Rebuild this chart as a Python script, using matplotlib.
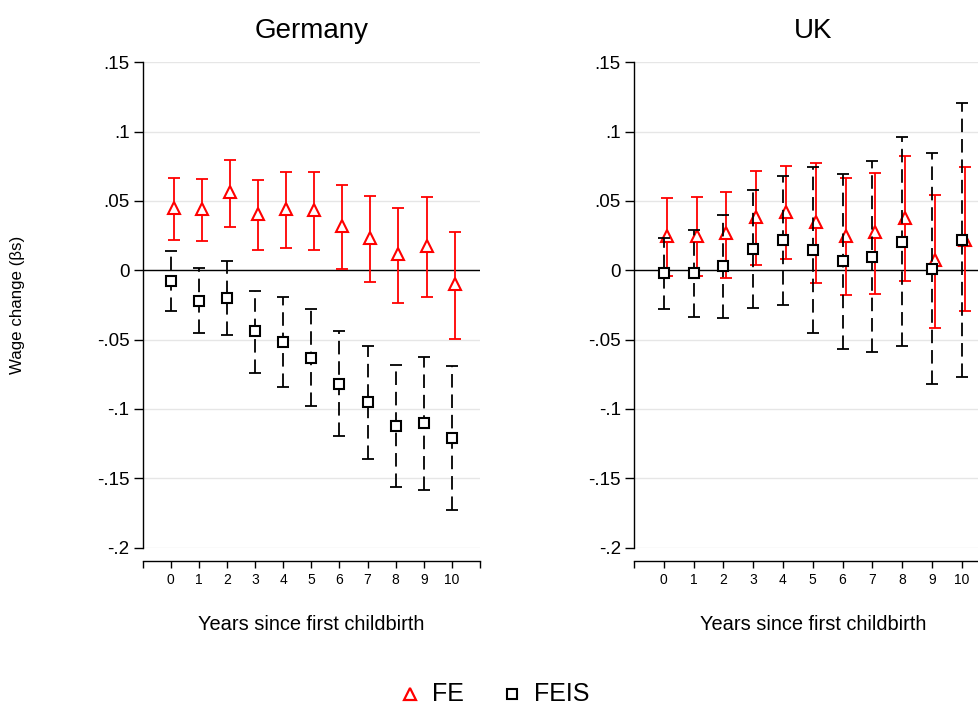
import matplotlib
matplotlib.use("Agg")
import matplotlib.pyplot as plt
from matplotlib.lines import Line2D
import numpy as np

plt.rcParams['font.family'] = ['Liberation Sans', 'DejaVu Sans']

years = list(range(11))
xtick_labels = ['0', '1', '2', '3', '4', '5', '6', '7', '8', '9', '10']
ytick_vals = [-0.2, -0.15, -0.1, -0.05, 0, 0.05, 0.1, 0.15]
ytick_labels = ['-.2', '-.15', '-.1', '-.05', '0', '.05', '.1', '.15']

# Germany
de_fe = [0.0447, 0.0442, 0.0567, 0.0406, 0.0442, 0.0435, 0.032, 0.0236, 0.0118, 0.0175, -0.0101]
de_fe_hi = [0.0668, 0.0659, 0.0798, 0.0654, 0.0712, 0.0707, 0.0615, 0.0536, 0.045, 0.0531, 0.0274]
de_fe_lo = [0.0221, 0.0214, 0.0315, 0.0144, 0.0163, 0.0149, 0.001, -0.0084, -0.0236, -0.0195, -0.0493]
de_feis = [-0.0075, -0.0221, -0.020, -0.044, -0.0517, -0.063, -0.0817, -0.0954, -0.112, -0.1103, -0.1209]
de_feis_hi = [0.0137, 0.0014, 0.0067, -0.0147, -0.0195, -0.0279, -0.044, -0.055, -0.068, -0.0623, -0.0692]
de_feis_lo = [-0.0291, -0.0454, -0.0466, -0.0738, -0.0841, -0.0978, -0.1197, -0.1358, -0.156, -0.1584, -0.1726]

# UK
uk_fe = [0.025, 0.025, 0.0267, 0.0387, 0.0423, 0.0351, 0.025, 0.0276, 0.038, 0.0075, 0.022]
uk_fe_hi = [0.0522, 0.0531, 0.0563, 0.0719, 0.0755, 0.0776, 0.0666, 0.0702, 0.0825, 0.0541, 0.0743]
uk_fe_lo = [-0.0038, -0.0042, -0.0054, 0.0041, 0.0079, -0.0089, -0.0178, -0.0168, -0.0079, -0.0416, -0.0293]
uk_feis = [-0.0017, -0.0019, 0.0029, 0.0154, 0.0216, 0.0144, 0.0065, 0.0099, 0.0207, 0.0012, 0.0221]
uk_feis_hi = [0.0236, 0.0293, 0.0401, 0.0579, 0.0683, 0.0743, 0.0697, 0.0786, 0.0959, 0.0849, 0.1209]
uk_feis_lo = [-0.0279, -0.0339, -0.0341, -0.0272, -0.0252, -0.0452, -0.0567, -0.0587, -0.0546, -0.0822, -0.0767]

W, H = 979, 706
fig = plt.figure(figsize=(W / 100, H / 100), dpi=100)

def frac_x(px):
    return px / W

def frac_y(py):
    return 1 - py / H

panels = [
    ("Germany", 142.7, 480.0, de_fe, de_fe_lo, de_fe_hi, de_feis, de_feis_lo, de_feis_hi),
    ("UK", 634.0, 991.6, uk_fe, uk_fe_lo, uk_fe_hi, uk_feis, uk_feis_lo, uk_feis_hi),
]

top_px, bot_px = 62.3, 547.5
red = '#ff0000'
for title, lpx, rpx, fe, felo, fehi, fs, fslo, fshi in panels:
    ax = fig.add_axes([frac_x(lpx), frac_y(bot_px), frac_x(rpx - lpx), (bot_px - top_px) / H])
    ax.set_xlim(-1, 11)
    ax.set_ylim(-0.2, 0.15)
    ax.set_yticks(ytick_vals)
    ax.set_yticklabels(ytick_labels, fontsize=13.5)
    ax.set_xticks(list(range(-1, 12)))
    ax.set_xticklabels([''] + xtick_labels + [''], fontsize=11)
    for v in ytick_vals:
        ax.axhline(v, color='#e6e6e6', lw=1.0, zorder=0)
    ax.axhline(0, color='black', lw=1.0, zorder=1)
    for s in ['top', 'right']:
        ax.spines[s].set_visible(False)
    ax.spines['left'].set_linewidth(1.0)
    ax.spines['bottom'].set_linewidth(1.0)
    ax.spines['bottom'].set_position(('outward', 10))
    ax.tick_params(axis='y', length=6.5, width=1.0, pad=3)
    ax.tick_params(axis='x', length=5, width=1.0, pad=3)

    x_fe = np.array(years) + 0.1
    x_fs = np.array(years, dtype=float)
    fe = np.array(fe); felo = np.array(felo); fehi = np.array(fehi)
    fs = np.array(fs); fslo = np.array(fslo); fshi = np.array(fshi)

    ax.errorbar(x_fe, fe, yerr=[fe - felo, fehi - fe], fmt='none', ecolor=red,
                elinewidth=1.3, capsize=4, capthick=1.3, zorder=3)
    ax.plot(x_fe, fe, ls='none', marker='^', ms=8.5, mfc='white', mec=red, mew=1.5, zorder=4)

    eb2 = ax.errorbar(x_fs, fs, yerr=[fs - fslo, fshi - fs], fmt='none', ecolor='black',
                      elinewidth=1.3, capsize=4, capthick=1.3, zorder=5)
    for lc in eb2[2]:
        lc.set_linestyle((0, (7.5, 3.8)))
    ax.plot(x_fs, fs, ls='none', marker='s', ms=7.2, mfc='white', mec='black', mew=1.5, zorder=6)

    cx = frac_x((lpx + rpx) / 2)
    fig.text(cx, frac_y(38), title, ha='center', va='baseline', fontsize=20)
    fig.text(cx, frac_y(624), 'Years since first childbirth', ha='center', va='center', fontsize=14.4)

fig.text(frac_x(18), frac_y(305), 'Wage change (βs)', rotation=90, ha='center', va='center', fontsize=12.2)

# legend
ly = frac_y(694)
fig.add_artist(Line2D([frac_x(410)], [ly], transform=fig.transFigure, ls='none', marker='^',
                      ms=8.5, mfc='white', mec=red, mew=1.6))
fig.text(frac_x(432), ly, 'FE', ha='left', va='center', fontsize=18)
fig.add_artist(Line2D([frac_x(512)], [ly], transform=fig.transFigure, ls='none', marker='s',
                      ms=6.8, mfc='white', mec='black', mew=1.5))
fig.text(frac_x(534), ly, 'FEIS', ha='left', va='center', fontsize=18)

fig.savefig('out.png', dpi=100)
